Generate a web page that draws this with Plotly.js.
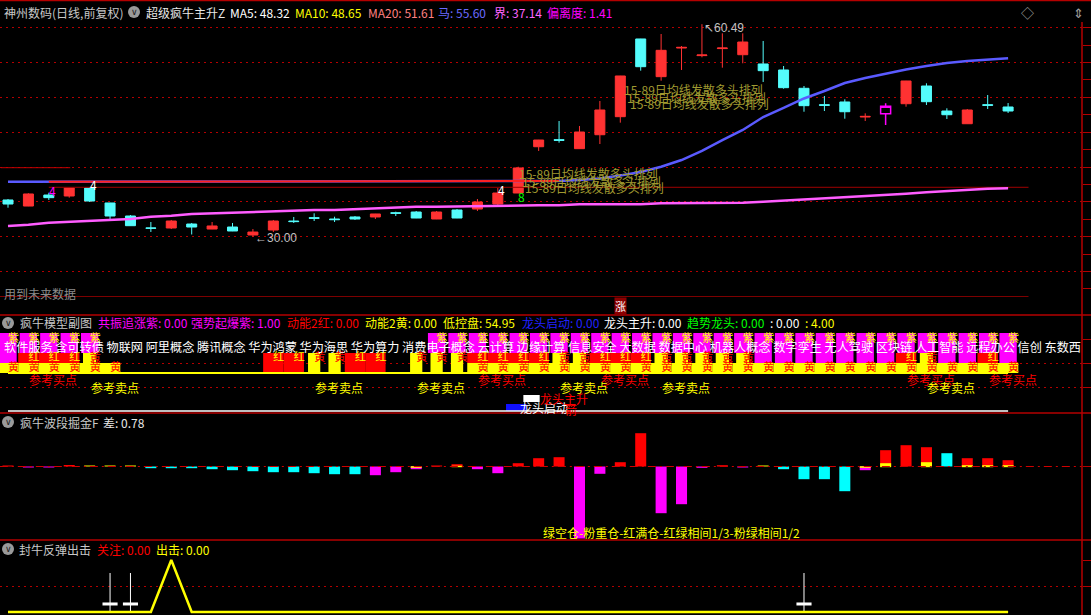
<!DOCTYPE html>
<html>
<head>
<meta charset="utf-8">
<script src="https://cdn.plot.ly/plotly-3.0.1.min.js"></script>
<style>
  html, body { margin: 0; padding: 0; background: #000; }
  #chart { width: 1091px; height: 615px; }
</style>
</head>
<body>
<div id="chart"></div>
<script>
const W = 1091;
const H = 615;
const days = Array.from({ length: 50 }, (_, i) => i + 1);

// 神州数码 daily K-line
const open = [35.27, 34.40, 35.98, 35.84, 36.99, 34.84, 32.97, 31.25, 31.25, 31.82,
  31.10, 31.39, 30.24, 30.96, 32.25, 32.73, 32.54, 32.83, 32.83, 33.44,
  33.54, 32.54, 33.83, 33.97, 34.69, 36.27, 42.91, 43.92, 42.63, 44.63,
  47.22, 58.37, 52.96, 57.07, 55.98, 56.99, 56.11, 54.78, 53.92, 51.29,
  48.94, 49.33, 47.17, 47.65, 49.08, 51.62, 48.03, 46.21, 48.94, 48.61];
const high = [35.41, 36.23, 36.31, 37.00, 37.13, 34.86, 33.11, 32.11, 32.40, 31.97,
  32.11, 31.97, 31.10, 32.40, 32.83, 33.36, 32.87, 32.97, 33.28, 33.59,
  33.69, 33.69, 33.97, 35.41, 36.99, 40.04, 43.89, 46.60, 45.88, 49.47,
  53.08, 58.39, 59.08, 57.36, 60.49, 59.18, 59.18, 58.08, 54.49, 51.62,
  50.19, 49.71, 47.70, 49.14, 52.36, 52.01, 48.42, 48.32, 50.33, 49.18];
const low = [34.16, 34.38, 35.27, 35.60, 34.98, 32.40, 31.56, 30.68, 31.10, 30.32,
  31.08, 30.80, 30.00, 30.67, 31.97, 32.25, 32.11, 32.40, 32.54, 32.97,
  32.66, 32.52, 32.66, 33.69, 34.55, 36.25, 42.30, 43.49, 42.61, 43.30,
  46.36, 53.82, 52.38, 53.92, 55.74, 54.25, 54.88, 52.20, 51.23, 47.93,
  48.03, 46.93, 46.60, 46.03, 48.65, 48.90, 46.89, 46.19, 48.32, 47.75];
const close = [34.69, 36.13, 35.60, 36.99, 35.12, 32.97, 31.58, 31.22, 32.25, 31.39,
  31.54, 30.82, 30.67, 32.25, 32.17, 32.64, 32.45, 32.54, 33.26, 33.36,
  32.68, 33.54, 32.68, 34.98, 36.27, 39.86, 43.87, 43.83, 45.02, 48.18,
  53.06, 54.39, 56.74, 57.16, 56.07, 57.07, 57.93, 53.82, 51.38, 48.80,
  48.85, 47.93, 47.26, 48.71, 52.34, 49.37, 47.50, 48.18, 48.85, 48.03];
const hollowDay = 44;

// 马 / 界 lines
const maLine = [37.89, 37.89, 37.89, 37.89, 37.89, 37.89, 37.89, 37.89, 37.89, 37.89,
  37.89, 37.89, 37.89, 37.89, 37.89, 37.89, 37.89, 37.89, 37.89, 37.89,
  37.89, 37.89, 37.89, 37.89, 37.89, 37.89, 37.89, 37.99, 38.14, 38.35,
  38.78, 39.28, 40.04, 41.00, 42.30, 43.87, 45.31, 47.17, 48.47, 49.83,
  50.90, 52.05, 52.77, 53.41, 53.99, 54.49, 54.92, 55.21, 55.42, 55.60];
const jieLine = [31.54, 31.72, 32.01, 32.15, 32.30, 32.40, 32.54, 32.87, 33.01, 33.26,
  33.36, 33.44, 33.59, 33.59, 33.73, 33.83, 33.83, 33.97, 34.08, 34.16,
  34.30, 34.30, 34.36, 34.41, 34.45, 34.51, 34.51, 34.51, 34.65, 34.65,
  34.65, 34.65, 34.79, 34.79, 34.79, 34.88, 34.88, 35.02, 35.17, 35.37,
  35.51, 35.65, 35.80, 35.98, 36.17, 36.37, 36.56, 36.74, 36.89, 36.94];
const redFrom = 3, redTo = 28;
const jieLevel = 37.09;
const baseLevel = 21.39;
const shortLevel = 39.90;

// 疯牛模型副图 zones, one code per day
const zoneTop = ("MMMMM" + "-----" + "-----" + "------" + "MMMMMMMMMM" + "MMMMMMMMMM" + "MMMMMMMMM").split("");
const zoneMid = ("MRRRY" + "-----" + "-----" + "-----" + "---" + "RRRRYYRRRY" + "YYYYMMMMMM" + "MRYMMRM").split("");
const zoneBottom = ("YYYYYY" + "-----" + "-----" + "-------" + "YYYYYYYYYY" + "YYYYYYYYYY" + "YYYYYYY").split("");
const zoneBlock = ("-----" + "-----" + "---" + "RRYYRR-YYY" + "----------" + "----------" + "-------").split("");
const buyDays = [2, 24, 30, 45, 49];
const sellDays = [5, 16, 21, 28, 33, 46];
const concepts = ["软件服务", "含可转债", "物联网", "阿里概念", "腾讯概念", "华为鸿蒙", "华为海思",
  "华为算力", "消费电子概念", "云计算", "边缘计算", "信息安全", "大数据", "数据中心", "机器人概念",
  "数字孪生", "无人驾驶", "区块链", "人工智能", "远程办公", "信创", "东数西"];

// 疯牛波段掘金F
const waveVal = [0.1, -0.1, -0.1, 0.15, 0.1, 0.1, 0.1, -0.17, -0.17, -0.17,
  -0.27, -0.37, -0.47, -0.57, -0.57, -0.67, -0.77, -0.77, -0.87, -0.57,
  -0.27, 0.1, 0.23, -0.27, -0.67, 0.33, 0.83, 0.93, -7.2, -0.73,
  0.43, 3.33, -4.67, -3.77, -0.13, 0.13, -0.1, 0.1, -0.27, -1.27,
  -1.27, -2.47, -0.37, 1.63, 2.13, 1.93, 1.33, 0.83, 0.83, 0.63];
const waveColor = ("RMMRYYY" + "CCCCCCCCCCC" + "MMM" + "RR" + "MM" + "RRR" + "MM" + "RR" + "MMM" + "R" + "M" + "Y" + "CCCC" + "M" + "RRR" + "C" + "RRR").split("");
const waveYellowLo = [null, null, null, null, null, null, null, null, null, null,
  null, null, null, null, null, null, null, null, null, null,
  -0.13, null, -0.07, null, null, null, null, null, null, null,
  null, null, null, null, null, null, null, null, null, null,
  null, null, -0.13, -0.07, null, -0.07, null, -0.07, -0.07, -0.07];
const waveYellowHi = [null, null, null, null, null, null, null, null, null, null,
  null, null, null, null, null, null, null, null, null, null,
  0.03, null, 0.07, null, null, null, null, null, null, null,
  null, null, null, null, null, null, null, null, null, null,
  null, null, 0.03, 0.33, null, 0.43, null, 0.13, 0.13, 0.13];

// 封牛反弹出击
const rebound = [0, 0, 0, 0, 0, 0, 0, 0, 1, 0,
  0, 0, 0, 0, 0, 0, 0, 0, 0, 0,
  0, 0, 0, 0, 0, 0, 0, 0, 0, 0,
  0, 0, 0, 0, 0, 0, 0, 0, 0, 0,
  0, 0, 0, 0, 0, 0, 0, 0, 0, 0];
const stickDays = [6, 7, 40];
const stickTop = 0.75;
const stickBar = 0.154;

const RED = "#ff3232", CYAN = "#54fcfc", GRID = "#b40000";
const colorOf = { R: "#ff0000", M: "#ff00ff", C: "#00ffff", Y: "#ffff00" };
const pick = (arr, keep) => arr.map((v, i) => (keep(i + 1) ? v : null));

const traces = [];

// main panel
traces.push({
  type: "candlestick", x: days,
  open: pick(open, (d) => d !== hollowDay), high: pick(high, (d) => d !== hollowDay),
  low: pick(low, (d) => d !== hollowDay), close: pick(close, (d) => d !== hollowDay),
  increasing: { line: { color: RED, width: 1 }, fillcolor: RED },
  decreasing: { line: { color: CYAN, width: 1 }, fillcolor: CYAN },
  xaxis: "x", yaxis: "y",
});
traces.push({
  type: "candlestick", x: days,
  open: pick(open, (d) => d === hollowDay), high: pick(high, (d) => d === hollowDay),
  low: pick(low, (d) => d === hollowDay), close: pick(close, (d) => d === hollowDay),
  increasing: { line: { color: "#ff00ff", width: 1.5 }, fillcolor: "rgba(0,0,0,0)" },
  decreasing: { line: { color: "#ff00ff", width: 1.5 }, fillcolor: "rgba(0,0,0,0)" },
  xaxis: "x", yaxis: "y",
});
traces.push({ type: "scatter", mode: "lines", x: [0.6, 51], y: [baseLevel, baseLevel], line: { color: "#a00000", width: 1 }, yaxis: "y" });
traces.push({ type: "scatter", mode: "lines", x: [3, 51], y: [jieLevel, jieLevel], line: { color: "#a00000", width: 1 }, yaxis: "y" });
traces.push({ type: "scatter", mode: "lines", x: [0.65, 4.05], y: [shortLevel, shortLevel], line: { color: "#c00000", width: 1 }, yaxis: "y" });
traces.push({ type: "scatter", mode: "lines", x: days, y: jieLine, line: { color: "#ff5cff", width: 2.5 }, yaxis: "y" });
traces.push({ type: "scatter", mode: "lines", x: days, y: maLine, line: { color: "#5a5aff", width: 2.5 }, yaxis: "y" });
traces.push({
  type: "scatter", mode: "lines", x: days.slice(redFrom - 1, redTo), y: maLine.slice(redFrom - 1, redTo),
  line: { color: "#ff2020", width: 2 }, yaxis: "y",
});

// sub panel 2: zones
const magBase = zoneMid.map((m) => (m === "M" ? 1 : 2));
traces.push({
  type: "bar", x: days, base: magBase, y: zoneTop.map((t, i) => (t === "M" ? 4 - magBase[i] : null)),
  width: 0.85, marker: { color: "#ff00ff", line: { width: 0 } }, yaxis: "y2",
});
traces.push({
  type: "bar", x: days, base: 1, y: zoneMid.map((m) => (m === "R" ? 1 : null)),
  width: 1.0, marker: { color: "#ff0000", line: { width: 0 } }, yaxis: "y2",
});
traces.push({
  type: "bar", x: days, base: 1, y: zoneMid.map((m) => (m === "Y" ? 1 : null)),
  width: 0.65, marker: { color: "#ffff00", line: { width: 0 } }, yaxis: "y2",
});
traces.push({
  type: "bar", x: days, base: 0, y: zoneBlock.map((m) => (m === "R" ? 2 : null)),
  width: 1.0, marker: { color: "#ff0000", line: { width: 0 } }, yaxis: "y2",
});
traces.push({
  type: "bar", x: days, base: 0, y: zoneBlock.map((m) => (m === "Y" ? 2 : null)),
  width: 0.6, marker: { color: "#ffff00", line: { width: 0 } }, yaxis: "y2",
});
traces.push({
  type: "bar", x: days, base: 0, y: zoneBottom.map((m) => (m === "Y" ? 1 : null)),
  width: 1.0, marker: { color: "#ffff00", line: { width: 0 } }, yaxis: "y2",
});
traces.push({ type: "bar", x: [25.9], base: [-3.8], y: [0.7], width: 1.0, marker: { color: "#1010ff" }, yaxis: "y2" });
traces.push({ type: "bar", x: [26.65], base: [-2.9], y: [0.7], width: 0.8, marker: { color: "#ffffff" }, yaxis: "y2" });
traces.push({ type: "scatter", mode: "lines", x: days, y: days.map(() => 0), line: { color: "#ffff00", width: 2 }, yaxis: "y2" });
traces.push({ type: "scatter", mode: "lines", x: days, y: days.map(() => -3.8), line: { color: "#ffffff", width: 1.5 }, yaxis: "y2" });

const lx = [], ly = [], lt = [], lc = [];
days.forEach((d, i) => {
  if (zoneBottom[i] === "Y") { lx.push(d + 0.27); ly.push(0.5); lt.push("黄"); lc.push("#ff0000"); }
  if (zoneMid[i] === "R" || zoneBlock[i] === "R") { lx.push(d + 0.27); ly.push(1.5); lt.push("红"); lc.push("#ffff00"); }
  if (zoneMid[i] === "Y" || zoneBlock[i] === "Y") { lx.push(d + 0.27); ly.push(1.5); lt.push("黄"); lc.push("#ff0000"); }
  if (zoneTop[i] === "M") { lx.push(d + 0.27); ly.push(3.35); lt.push("紫"); lc.push("#ffff00"); }
});
traces.push({
  type: "scatter", mode: "text", x: lx, y: ly, text: lt, textposition: "middle center",
  textfont: { color: lc, size: 11 }, yaxis: "y2",
});

// sub panel 3: wave bars
traces.push({
  type: "scatter", mode: "lines", x: [0.6, 53.6], y: [0, 0],
  line: { color: "#d00000", width: 1.2, dash: "8px,4px,2px,4px" }, yaxis: "y3",
});
traces.push({
  type: "bar", x: days, y: waveVal, base: 0, width: 0.54,
  marker: { color: waveColor.map((c) => colorOf[c]), line: { width: 0 } }, yaxis: "y3",
});
traces.push({
  type: "bar", x: days, base: waveYellowLo,
  y: waveYellowHi.map((v, i) => (v === null ? null : v - waveYellowLo[i])),
  width: 0.54, marker: { color: "#ffff00", line: { width: 0 } }, yaxis: "y3",
});

// sub panel 4
const sv = { x: [], y: [] }, sh = { x: [], y: [] };
stickDays.forEach((d) => {
  sv.x.push(d, d, null); sv.y.push(0, stickTop, null);
  sh.x.push(d - 0.37, d + 0.37, null); sh.y.push(stickBar, stickBar, null);
});
traces.push({ type: "scatter", mode: "lines", x: sv.x, y: sv.y, line: { color: "#ffffff", width: 1 }, yaxis: "y4" });
traces.push({ type: "scatter", mode: "lines", x: sh.x, y: sh.y, line: { color: "#ffffff", width: 3 }, yaxis: "y4" });
traces.push({ type: "scatter", mode: "lines", x: days, y: rebound, line: { color: "#ffff00", width: 2.5 }, yaxis: "y4" });

// annotations
const ann = [];
const FONT = "Noto Sans CJK SC, Noto Sans, sans-serif";
function hdr(xp, yp, text, color, size) {
  ann.push({
    xref: "paper", yref: "paper", x: xp / W, y: 1 - yp / H, xanchor: "left", yanchor: "middle",
    text, showarrow: false, font: { color, size: size || 12, family: FONT },
  });
}
function dtext(x, y, text, color, size, yref, extra) {
  ann.push(Object.assign({
    xref: "x", yref: yref || "y", x, y, xanchor: "left", yanchor: "middle",
    text, showarrow: false, font: { color, size: size || 12, family: FONT },
  }, extra || {}));
}

hdr(2, 12, "神州数码(日线,前复权)", "#c8c8c8");
hdr(144, 12, "超级疯牛主升Z", "#e8e8e8");
hdr(228, 12, "MA5: 48.32", "#ffffff");
hdr(293, 12, "MA10: 48.65", "#ffff00");
hdr(366, 12, "MA20: 51.61", "#ff8080");
hdr(436, 12, "马: 55.60", "#6a6aff");
hdr(492, 12, "界: 37.14", "#ff66ff");
hdr(545, 12, "偏离度: 1.41", "#ff00ff");
hdr(1019, 12, "◇", "#a0a0a0", 13);
hdr(1071, 12, "⇕", "#a0a0a0", 13);

hdr(18, 323, "疯牛模型副图", "#c8c8c8");
hdr(96, 323, "共振追涨紫: 0.00", "#ff00ff");
hdr(189, 323, "强势起爆紫: 1.00", "#ff00ff");
hdr(285, 323, "动能2红: 0.00", "#ff0000");
hdr(363, 323, "动能2黄: 0.00", "#ffff00");
hdr(441, 323, "低控盘: 54.95", "#ffff00");
hdr(520, 323, "龙头启动: 0.00", "#2020ff");
hdr(602, 323, "龙头主升: 0.00", "#ffffff");
hdr(685, 323, "趋势龙头: 0.00", "#00ff00");
hdr(768, 323, ": 0.00", "#ffffff");
hdr(803, 323, ": 4.00", "#ffff00");

hdr(18, 422, "疯牛波段掘金F", "#c8c8c8");
hdr(101, 422, "差: 0.78", "#e8e8e8");

hdr(17, 549, "封牛反弹出击", "#c8c8c8");
hdr(95, 549, "关注: 0.00", "#ff0000");
hdr(154, 549, "出击: 0.00", "#ffff00");

[134, 8, 8, 8].forEach((cx, k) => {
  const cy = [12, 323, 422, 549][k];
  ann.push({
    xref: "paper", yref: "paper", x: cx / W, y: 1 - cy / H, xanchor: "center", yanchor: "middle",
    text: "∨", showarrow: false, font: { color: "#202020", size: 9, family: "DejaVu Sans" },
  });
});

hdr(2, 293, "用到未来数据", "#8c8c8c");
hdr(2, 346, concepts.join(" "), "#ffffff", 12.15);

dtext(13, 30.0, "←30.00", "#c0c0c0", 12, "y", { yshift: -1, font: { color: "#c0c0c0", size: 12, family: "Liberation Sans" } });
dtext(35, 60.49, "↖60.49", "#c0c0c0", 12, "y", { yshift: -4, font: { color: "#c0c0c0", size: 12, family: "Liberation Sans" } });
dtext(4.9, 37.56, "4", "#ffffff", 12);
dtext(2.9, 36.56, "4", "#ff00ff", 12);
dtext(24.9, 36.84, "4", "#ffffff", 12);
dtext(25.9, 35.70, "8", "#00ff00", 12);
[[31.08, 51.05], [31.23, 50.04], [31.38, 49.04], [25.94, 39.0], [26.09, 37.99], [26.24, 37.13]].forEach(([x, y]) => {
  dtext(x, y, "15-89日均线发散多头排列", "#a09a30", 12);
});
ann.push({
  xref: "x", yref: "paper", x: 31, y: 1 - 306 / H, xanchor: "center", yanchor: "middle",
  text: "涨", showarrow: false, bgcolor: "#8b0000", borderpad: 0,
  font: { color: "#ffffff", size: 11, family: FONT },
});

buyDays.forEach((d) => dtext(d - 0.05, -0.6, "参考买点", "#ff0000", 12, "y2"));
sellDays.forEach((d) => dtext(d - 0.05, -1.4, "参考卖点", "#ffff00", 12, "y2"));
dtext(26.0, -3.4, "龙头启动", "#ffffff", 12, "y2");
dtext(26.97, -2.5, "龙头主升", "#ff0000", 12, "y2");
dtext(28.2, -3.6, "箭", "#ff0000", 12, "y2");

dtext(27.11, -6.55, "绿空仓-粉重仓-红满仓-红绿相间1/3-粉绿相间1/2", "#ffff00", 12, "y3");

// frame
const shapes = [];
[0.5, 315, 413, 540].forEach((yp) => {
  shapes.push({ type: "line", xref: "paper", yref: "paper", x0: 0, x1: 1, y0: 1 - yp / H, y1: 1 - yp / H, line: { color: GRID, width: 1.5 } });
});
shapes.push({ type: "line", xref: "paper", yref: "paper", x0: 1082 / W, x1: 1082 / W, y0: 0, y1: 1 - 22 / H, line: { color: GRID, width: 1.5 } });
[[134, 12], [8, 323], [8, 422], [8, 549]].forEach(([cx, cy]) => {
  shapes.push({
    type: "circle", xref: "paper", yref: "paper", x0: (cx - 6) / W, x1: (cx + 6) / W,
    y0: 1 - (cy + 6) / H, y1: 1 - (cy - 6) / H, fillcolor: "#9a9a9a", line: { width: 0 }, layer: "below",
  });
});

const yBase = {
  anchor: "x", side: "right", showticklabels: false, zeroline: false, showline: false,
  ticks: "outside", ticklen: 8, tickcolor: GRID, tickwidth: 1, fixedrange: true,
  gridcolor: GRID, griddash: "2px,4px", gridwidth: 1,
};
const py = (p) => 1 - p / H;

const layout = {
  width: W, height: H,
  margin: { l: 0, r: 0, t: 0, b: 0 },
  paper_bgcolor: "#000", plot_bgcolor: "#000",
  showlegend: false,
  barmode: "overlay",
  font: { family: FONT, color: "#ffffff", size: 12 },
  xaxis: { domain: [0, 1082 / W], range: [0.608, 53.621], visible: false, rangeslider: { visible: false }, fixedrange: true },
  yaxis: Object.assign({}, yBase, {
    domain: [py(297), py(20)], range: [21.35, 61.09], tick0: 0, dtick: 5, showgrid: true,
    minor: { dtick: 2.5, ticks: "outside", ticklen: 8, tickcolor: GRID, showgrid: false },
  }),
  yaxis2: Object.assign({}, yBase, {
    domain: [py(413), py(315)], range: [-4.0, 5.8], tickmode: "array", tickvals: [-1.4, 1], showgrid: true,
    minor: { tickmode: "array", tickvals: [3.4], ticks: "outside", ticklen: 8, tickcolor: GRID, showgrid: false },
  }),
  yaxis3: Object.assign({}, yBase, {
    domain: [py(540), py(413)], range: [-7.35, 5.35], tickmode: "array", tickvals: [0], showgrid: false,
  }),
  yaxis4: Object.assign({}, yBase, {
    domain: [0, py(540)], range: [-0.058, 1.385], tickmode: "array", tickvals: [0.5], showgrid: true,
    minor: { tickmode: "array", tickvals: [1], ticks: "outside", ticklen: 8, tickcolor: GRID, showgrid: false },
  }),
  annotations: ann,
  shapes: shapes,
};

Plotly.newPlot("chart", traces, layout, { staticPlot: true, displayModeBar: false });
</script>
</body>
</html>
